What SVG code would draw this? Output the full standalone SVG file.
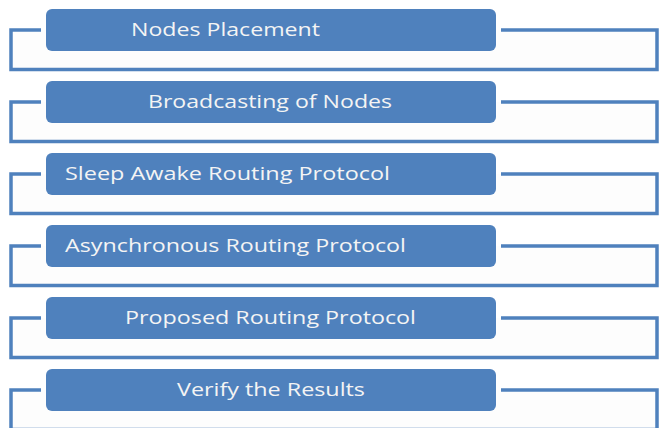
<svg xmlns="http://www.w3.org/2000/svg" width="659" height="428" viewBox="0 0 659 428">
<style>
.frame{fill:#FDFDFD;stroke:none}
.ln{fill:none;stroke:#4F81BD;stroke-width:3.5;stroke-linejoin:miter}
.box{fill:#4F81BD;stroke:none}
.lbl{font-family:"Open Sans","Noto Sans",sans-serif;font-size:18px;fill:#F4F4F4}
</style>
<rect width="659" height="428" fill="#FFFFFF"/>
<g id="connectors">
<rect class="frame" x="11" y="30" width="646" height="39.5"/>
<path class="ln" d="M41 30 H11 V69.5 H657 V30 H501"/>
<rect class="frame" x="11" y="102" width="646" height="39.5"/>
<path class="ln" d="M41 102 H11 V141.5 H657 V102 H501"/>
<rect class="frame" x="11" y="174" width="646" height="39.5"/>
<path class="ln" d="M41 174 H11 V213.5 H657 V174 H501"/>
<rect class="frame" x="11" y="246" width="646" height="39.5"/>
<path class="ln" d="M41 246 H11 V285.5 H657 V246 H501"/>
<rect class="frame" x="11" y="318" width="646" height="39.5"/>
<path class="ln" d="M41 318 H11 V357.5 H657 V318 H501"/>
<rect class="frame" x="11" y="390" width="646" height="39.5"/>
<path class="ln" d="M41 390 H11 V429.5 H657 V390 H501"/>
</g>
<g id="n1"><rect class="box" x="46" y="9" width="450" height="42" rx="6"/><text class="lbl" x="131" y="36" textLength="189" lengthAdjust="spacingAndGlyphs">Nodes Placement</text></g>
<g id="n2"><rect class="box" x="46" y="81" width="450" height="42" rx="6"/><text class="lbl" x="148" y="108" textLength="244" lengthAdjust="spacingAndGlyphs">Broadcasting of Nodes</text></g>
<g id="n3"><rect class="box" x="46" y="153" width="450" height="42" rx="6"/><text class="lbl" x="65" y="180" textLength="325" lengthAdjust="spacingAndGlyphs">Sleep Awake Routing Protocol</text></g>
<g id="n4"><rect class="box" x="46" y="225" width="450" height="42" rx="6"/><text class="lbl" x="65" y="252" textLength="341" lengthAdjust="spacingAndGlyphs">Asynchronous Routing Protocol</text></g>
<g id="n5"><rect class="box" x="46" y="297" width="450" height="42" rx="6"/><text class="lbl" x="125" y="324" textLength="291" lengthAdjust="spacingAndGlyphs">Proposed Routing Protocol</text></g>
<g id="n6"><rect class="box" x="46" y="369" width="450" height="42" rx="6"/><text class="lbl" x="177" y="396" textLength="188" lengthAdjust="spacingAndGlyphs">Verify the Results</text></g>
</svg>
